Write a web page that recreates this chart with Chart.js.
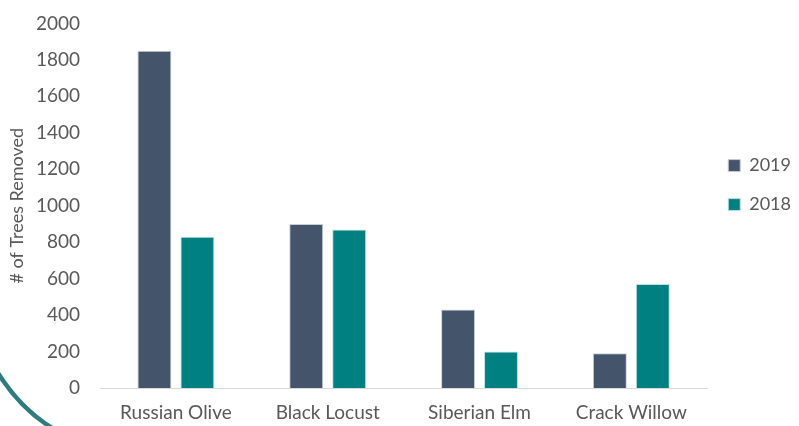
<!DOCTYPE html>
<html>
<head>
<meta charset="utf-8">
<script src="https://cdn.jsdelivr.net/npm/chart.js@4"></script>
<style>
  html, body { margin: 0; padding: 0; background: #fff; }
  #wrap { width: 799px; height: 426px; position: relative; }
</style>
</head>
<body>
<div id="wrap"><canvas id="myChart" width="799" height="426"></canvas></div>
<script>
var categories = ["Russian Olive", "Black Locust", "Siberian Elm", "Crack Willow"];
var trees2019 = [1850, 900, 430, 190];
var trees2018 = [830, 870, 200, 570];
var yTicks = [0, 200, 400, 600, 800, 1000, 1200, 1400, 1600, 1800, 2000];

var fontFam = "Lato, 'Open Sans', sans-serif";

// teal swoosh in the lower left corner of the slide
var swoosh = {
  id: 'swoosh',
  beforeDraw: function(chart) {
    var c = chart.ctx;
    c.save();
    c.strokeStyle = '#2e7d7d';
    c.lineWidth = 4.5;
    c.beginPath();
    c.moveTo(-2, 373);
    c.quadraticCurveTo(20, 408, 52, 428);
    c.stroke();
    c.restore();
  }
};

var ctx = document.getElementById('myChart').getContext('2d');
var myChart = new Chart(ctx, {
  type: 'bar',
  data: {
    labels: categories,
    datasets: [{
      label: '2019',
      data: trees2019,
      backgroundColor: '#44546A',
      borderColor: '#c9ced6',
      borderWidth: 1,
      barPercentage: 0.79,
      categoryPercentage: 0.566
    }, {
      label: '2018',
      data: trees2018,
      backgroundColor: '#008080',
      borderColor: '#bfe0e0',
      borderWidth: 1,
      barPercentage: 0.79,
      categoryPercentage: 0.566
    }]
  },
  options: {
    responsive: false,
    animation: false,
    layout: { padding: { top: -7, right: -2, left: 0, bottom: 0 } },
    plugins: {
      legend: {
        position: 'right',
        align: 'start',
        title: {
          display: true,
          text: ' ',
          padding: { top: 0, bottom: 121 },
          font: { family: fontFam, size: 18 }
        },
        labels: {
          boxWidth: 12,
          boxHeight: 12,
          padding: 21,
          color: '#595959',
          font: { family: fontFam, size: 18 }
        }
      },
      tooltip: { enabled: false }
    },
    scales: {
      x: {
        afterFit: function(scale) { scale.height = 38; },
        grid: { display: false },
        border: { display: true, color: '#d9d9d9', width: 1 },
        ticks: { color: '#595959', padding: 5, font: { family: fontFam, size: 19 } }
      },
      y: {
        min: 0,
        max: 2000,
        afterBuildTicks: function(scale) {
          scale.ticks = yTicks.map(function(v) { return { value: v }; });
        },
        afterFit: function(scale) { scale.width = 100; },
        grid: { display: false },
        border: { display: false },
        ticks: {
          color: '#595959',
          padding: 12,
          font: { family: fontFam, size: 19 },
          callback: function(v) { return String(v); }
        },
        title: {
          display: true,
          text: '# of Trees Removed',
          color: '#595959',
          padding: { top: 6, bottom: 0 },
          font: { family: fontFam, size: 18 }
        }
      }
    }
  },
  plugins: [swoosh]
});
</script>
</body>
</html>
